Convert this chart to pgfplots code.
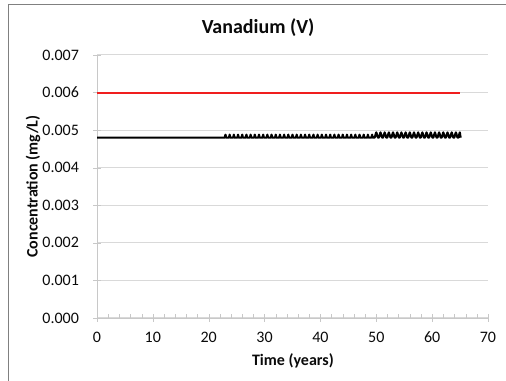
\documentclass[border=0pt]{standalone}
\usepackage{pgfplots}
\pgfplotsset{compat=1.18}
\usepackage{fontspec}
\setmainfont{Carlito}
\definecolor{gridgray}{RGB}{217,217,217}
\definecolor{axgray}{RGB}{200,200,200}
\definecolor{framegray}{RGB}{128,128,128}
\definecolor{txt}{RGB}{10,10,10}
\definecolor{exred}{RGB}{240,30,30}
\pgfplotstableread{
x y
0 0.0048
22.88 0.0048
23 0.00488
23.12 0.0048
23.63 0.0048
23.75 0.00488
23.87 0.0048
24.38 0.0048
24.5 0.00488
24.62 0.0048
25.13 0.0048
25.25 0.00488
25.37 0.0048
25.88 0.0048
26 0.00488
26.12 0.0048
26.63 0.0048
26.75 0.00488
26.87 0.0048
27.38 0.0048
27.5 0.00488
27.62 0.0048
28.13 0.0048
28.25 0.00488
28.37 0.0048
28.88 0.0048
29 0.00488
29.12 0.0048
29.63 0.0048
29.75 0.00488
29.87 0.0048
30.38 0.0048
30.5 0.00488
30.62 0.0048
31.13 0.0048
31.25 0.00488
31.37 0.0048
31.88 0.0048
32 0.00488
32.12 0.0048
32.63 0.0048
32.75 0.00488
32.87 0.0048
33.38 0.0048
33.5 0.00488
33.62 0.0048
34.13 0.0048
34.25 0.00488
34.37 0.0048
34.88 0.0048
35 0.00488
35.12 0.0048
35.63 0.0048
35.75 0.00488
35.87 0.0048
36.38 0.0048
36.5 0.00488
36.62 0.0048
37.13 0.0048
37.25 0.00488
37.37 0.0048
37.88 0.0048
38 0.00488
38.12 0.0048
38.63 0.0048
38.75 0.00488
38.87 0.0048
39.38 0.0048
39.5 0.00488
39.62 0.0048
40.13 0.0048
40.25 0.00488
40.37 0.0048
40.88 0.0048
41 0.00488
41.12 0.0048
41.63 0.0048
41.75 0.00488
41.87 0.0048
42.38 0.0048
42.5 0.00488
42.62 0.0048
43.13 0.0048
43.25 0.00488
43.37 0.0048
43.88 0.0048
44 0.00488
44.12 0.0048
44.63 0.0048
44.75 0.00488
44.87 0.0048
45.38 0.0048
45.5 0.00488
45.62 0.0048
46.13 0.0048
46.25 0.00488
46.37 0.0048
46.88 0.0048
47 0.00488
47.12 0.0048
47.63 0.0048
47.75 0.00488
47.87 0.0048
48.38 0.0048
48.5 0.00488
48.62 0.0048
49.13 0.0048
49.25 0.00488
49.37 0.0048
49.7 0.0048
50 0.00494
50.3 0.0048
50.45 0.0048
50.75 0.00494
51.05 0.0048
51.2 0.0048
51.5 0.00494
51.8 0.0048
51.95 0.0048
52.25 0.00494
52.55 0.0048
52.7 0.0048
53 0.00494
53.3 0.0048
53.45 0.0048
53.75 0.00494
54.05 0.0048
54.2 0.0048
54.5 0.00494
54.8 0.0048
54.95 0.0048
55.25 0.00494
55.55 0.0048
55.7 0.0048
56 0.00494
56.3 0.0048
56.45 0.0048
56.75 0.00494
57.05 0.0048
57.2 0.0048
57.5 0.00494
57.8 0.0048
57.95 0.0048
58.25 0.00494
58.55 0.0048
58.7 0.0048
59 0.00494
59.3 0.0048
59.45 0.0048
59.75 0.00494
60.05 0.0048
60.2 0.0048
60.5 0.00494
60.8 0.0048
60.95 0.0048
61.25 0.00494
61.55 0.0048
61.7 0.0048
62 0.00494
62.3 0.0048
62.45 0.0048
62.75 0.00494
63.05 0.0048
63.2 0.0048
63.5 0.00494
63.8 0.0048
63.95 0.0048
64.25 0.00494
64.55 0.0048
64.7 0.0048
64.95 0.00494
65.1 0.0048
}\vanadium
\begin{document}
\begin{tikzpicture}[x=1pt,y=1pt]
\useasboundingbox (0,0) rectangle (379.5,285.75);
\draw[framegray, line width=0.75pt] (6,0) -- (6,282) -- (379.5,282);
\begin{axis}[
  at={(72.75pt,47.25pt)}, anchor=south west,
  scale only axis, width=293.25pt, height=197.25pt,
  xmin=0, xmax=70, ymin=0, ymax=0.007,
  xtick={0,10,...,70}, minor x tick num=4,
  ytick={0,0.001,0.002,0.003,0.004,0.005,0.006,0.007},
  scaled y ticks=false,
  yticklabel style={/pgf/number format/fixed, /pgf/number format/fixed zerofill, /pgf/number format/precision=3, xshift=-7pt},
  /pgf/number format/assume math mode=true,
  ticklabel style={font=\fontsize{12}{14}\selectfont, text=txt},
  xticklabel style={yshift=-4pt},
  axis lines*=left,
  axis line style={axgray},
  tick style={axgray},
  tick align=center,
  major tick length=6pt,
  minor tick length=3pt,
  minor tick style={yshift=1.5pt},
  ymajorgrids, grid style={gridgray, line width=0.75pt},
  title={Vanadium (V)},
  title style={font=\bfseries\fontsize{15}{18}\selectfont, text=txt, at={(axis description cs:0.412,1.0726)}, anchor=center},
  xlabel={Time (years)},
  xlabel style={font=\bfseries\fontsize{12}{14}\selectfont, text=txt, at={(axis description cs:0.501,-0.163)}, anchor=center},
  ylabel={Concentration (mg/L)},
  ylabel style={font=\bfseries\fontsize{12}{14}\selectfont, text=txt, at={(axis description cs:-0.1637,0.5)}, anchor=center},
  clip=false,
]
\addplot[exred, line width=1.5pt] coordinates {(0,0.006) (65,0.006)};
\addplot[black, line width=1.6pt, line join=round] table {\vanadium};
\end{axis}
\end{tikzpicture}
\end{document}
